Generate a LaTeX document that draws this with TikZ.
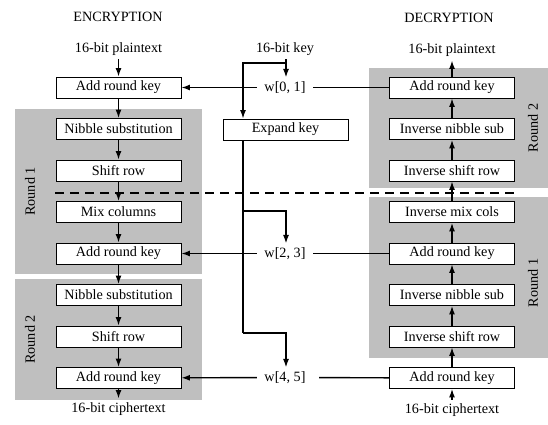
\documentclass[tikz,border=0pt]{standalone}
\usepackage{fontspec}
\setmainfont{Liberation Serif}
\usetikzlibrary{arrows.meta}
\tikzset{
  stepbox/.style={draw, fill=white, line width=0.8pt,
    minimum width=125pt, minimum height=21pt, inner sep=0pt},
  roundbg/.style={fill=black!25},
  keylabel/.style={fill=white, inner xsep=7pt},
  flow/.style={-{Latex[length=8.5pt,width=6pt]}}
}

\begin{document}
\begin{tikzpicture}[x=1pt, y=-1pt, line width=1.4pt,
    font=\fontsize{14.2}{16}\selectfont]
    \useasboundingbox (0,0) rectangle (548,425);

    % round backgrounds
    \fill[roundbg] (15,109) rectangle (202,274);
    \fill[roundbg] (15,279) rectangle (202,400);
    \fill[roundbg] (369,68) rectangle (548,188);
    \fill[roundbg] (369,197) rectangle (548,358);
    \node[rotate=90] (encr1) at (30,191.5) {Round 1};
    \node[rotate=90] (encr2) at (30,339.5) {Round 2};
    \node[rotate=90] (decr2) at (533,128) {Round 2};
    \node[rotate=90] (decr1) at (533,283) {Round 1};

    \draw[dashed, dash pattern=on 9pt off 6pt] (55,193) -- (514,193);

    % encryption
    \node (enc) at (118,17) {ENCRYPTION};
    \node (eplain) at (118.5,49) {16-bit plaintext};
    \node[stepbox] (eark0) at (118.5,87.5) {Add round key};
    \node[stepbox] (ensub1) at (118.5,129) {Nibble substitution};
    \node[stepbox] (eshift1) at (118.5,170.5) {Shift row};
    \node[stepbox] (emix) at (118.5,212) {Mix columns};
    \node[stepbox] (eark1) at (118.5,253.5) {Add round key};
    \node[stepbox] (ensub2) at (118.5,295) {Nibble substitution};
    \node[stepbox] (eshift2) at (118.5,336.5) {Shift row};
    \node[stepbox] (eark2) at (118.5,378) {Add round key};
    \node (ecipher) at (118.5,409) {16-bit ciphertext};

    \draw[flow] (eplain) -- (eark0);
    \draw[flow] (eark0) -- (ensub1);
    \draw[flow] (ensub1) -- (eshift1);
    \draw[flow] (eshift1) -- (emix);
    \draw[flow] (emix) -- (eark1);
    \draw[flow] (eark1) -- (ensub2);
    \draw[flow] (ensub2) -- (eshift2);
    \draw[flow] (eshift2) -- (eark2);
    \draw[flow] (eark2) -- (ecipher);

    % decryption
    \node (dec) at (449,18) {DECRYPTION};
    \node (dplain) at (452,50) {16-bit plaintext};
    \node[stepbox] (dark2) at (452,87.5) {Add round key};
    \node[stepbox] (dnsub2) at (452,129) {Inverse nibble sub};
    \node[stepbox] (dshift2) at (452,170.5) {Inverse shift row};
    \node[stepbox] (dmix) at (452,212) {Inverse mix cols};
    \node[stepbox] (dark1) at (452,253.5) {Add round key};
    \node[stepbox] (dnsub1) at (452,295) {Inverse nibble sub};
    \node[stepbox] (dshift1) at (452,336.5) {Inverse shift row};
    \node[stepbox] (dark0) at (452,378) {Add round key};
    \node (dcipher) at (452,410) {16-bit ciphertext};

    \draw[flow] (dcipher) -- (dark0);
    \draw[flow] (dark0) -- (dshift1);
    \draw[flow] (dshift1) -- (dnsub1);
    \draw[flow] (dnsub1) -- (dark1);
    \draw[flow] (dark1) -- (dmix);
    \draw[flow] (dmix) -- (dshift2);
    \draw[flow] (dshift2) -- (dnsub2);
    \draw[flow] (dnsub2) -- (dark2);
    \draw[flow] (dark2) -- (dplain);

    % key expansion
    \node (key) at (285,49) {16-bit key};
    \node[stepbox] (expand) at (285.5,129.5) {Expand key};
    \node[keylabel] (w01) at (285,87.5) {w[0, 1]};
    \node[keylabel] (w23) at (285,253.5) {w[2, 3]};
    \node[keylabel] (w45) at (285,377.5) {w[4, 5]};
    \coordinate (ksplit) at (286,63);
    \coordinate (kleft) at (243,63);
    \coordinate (kw23) at (243,211);
    \coordinate (kw45) at (243,333);

    \draw[flow] (key.south -| ksplit) -- (w01.north -| ksplit);
    \draw[flow] (ksplit) -- (kleft) -- (expand.north -| kleft);
    \draw (expand.south -| kleft) -- (kw45);
    \draw[flow] (kw23) -| (w23.north -| ksplit);
    \draw[flow] (kw45) -| (w45.north -| ksplit);

    \draw[flow] (w01) -- (eark0);
    \draw (w01) -- (dark2);
    \draw[flow] (w23) -- (eark1);
    \draw (w23) -- (dark1);
    \draw[flow] (w45) -- (eark2);
    \draw[shorten <=6pt] (w45) -- (dark0);
\end{tikzpicture}
\end{document}
